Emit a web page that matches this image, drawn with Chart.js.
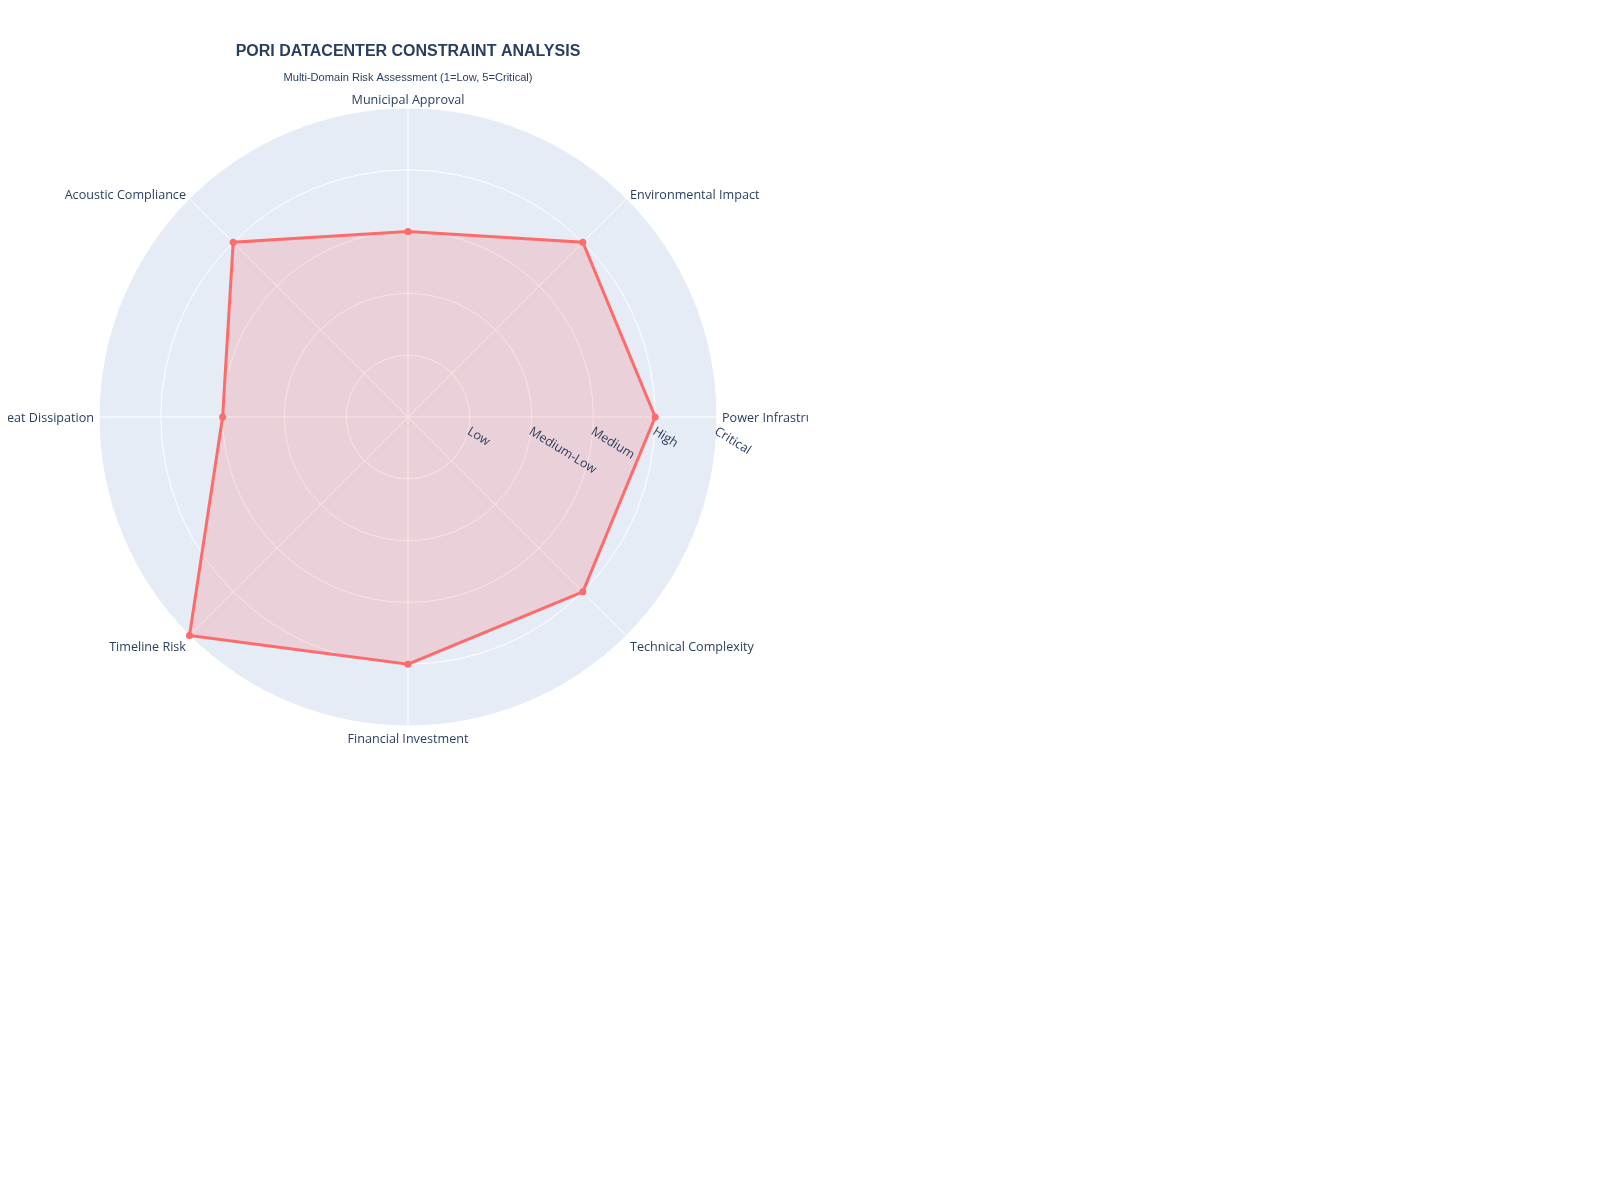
<!DOCTYPE html>
<html>
<head>
<meta charset="utf-8">
<script src="https://cdn.jsdelivr.net/npm/chart.js@4.4.1/dist/chart.umd.min.js"></script>
<style>
  html, body { margin: 0; padding: 0; background: #ffffff; }
  #wrap { position: absolute; left: 8px; top: 8px; width: 800px; height: 800px; overflow: hidden; }
</style>
</head>
<body>
<div id="wrap"><canvas id="c" width="800" height="800"></canvas></div>
<script>
// Categories listed clockwise starting from the top
const categories = [
  'Municipal Approval',
  'Environmental Impact',
  'Power Infrastructure',
  'Technical Complexity',
  'Financial Investment',
  'Timeline Risk',
  'Heat Dissipation',
  'Acoustic Compliance'
];
const riskScores = [3, 4, 4, 4, 4, 5, 3, 4];
const tickValues = [1, 2, 3, 4, 5];
const tickLabels = ['Low', 'Medium-Low', 'Medium', 'High', 'Critical'];

const titleText = 'PORI DATACENTER CONSTRAINT ANALYSIS';
const subtitleText = 'Multi-Domain Risk Assessment (1=Low, 5=Critical)';

const TEXT_COLOR = '#2a3f5f';
const LABEL_FONT = '12.6px "Open Sans", Verdana, sans-serif';

const polarBackground = {
  id: 'polarBackground',
  beforeDraw(chart) {
    const s = chart.scales.r;
    const ctx = chart.ctx;
    ctx.save();
    ctx.beginPath();
    ctx.arc(s.xCenter, s.yCenter, s.drawingArea, 0, Math.PI * 2);
    ctx.fillStyle = '#E5ECF6';
    ctx.fill();
    ctx.restore();
  }
};

const polarText = {
  id: 'polarText',
  afterDatasetsDraw(chart) {
    const s = chart.scales.r;
    const ctx = chart.ctx;
    ctx.save();
    ctx.fillStyle = TEXT_COLOR;
    ctx.font = LABEL_FONT;
    // angular labels
    const R = s.drawingArea;
    categories.forEach((label, i) => {
      const p = s.getPointPosition(i, R);
      const dx = (p.x - s.xCenter) / R;
      const dy = (p.y - s.yCenter) / R;
      let align = 'center';
      if (dx > 0.1) align = 'left';
      else if (dx < -0.1) align = 'right';
      ctx.textAlign = align;
      ctx.textBaseline = 'middle';
      const x = p.x + dx * 5;
      const y = p.y + dy * 10.5 + 1.5 * Math.abs(dy) + Math.abs(dx * dy) * 4 + 1;
      ctx.fillText(label, x, y);
    });
    // radial tick labels (rotated, along the 0° axis)
    tickValues.forEach((v, i) => {
      const r = s.getDistanceFromCenterForValue(v);
      ctx.save();
      ctx.translate(s.xCenter + r + 2, s.yCenter + 8);
      ctx.rotate(32 * Math.PI / 180);
      ctx.textAlign = 'left';
      ctx.textBaseline = 'top';
      ctx.fillText(tickLabels[i], 0, 0);
      ctx.restore();
    });
    // title + subtitle
    ctx.textAlign = 'center';
    ctx.textBaseline = 'middle';
    ctx.font = 'bold 16px "Liberation Sans", Arial, sans-serif';
    ctx.fillText(titleText, s.xCenter, 44);
    ctx.font = '11.1px "Liberation Sans", Arial, sans-serif';
    ctx.fillText(subtitleText, s.xCenter, 70);
    ctx.restore();
  }
};

new Chart(document.getElementById('c'), {
  type: 'radar',
  data: {
    labels: categories,
    datasets: [{
      label: 'Risk Score',
      data: riskScores,
      borderColor: '#FF6B6B',
      backgroundColor: 'rgba(255,107,107,0.2)',
      borderWidth: 3,
      fill: true,
      pointRadius: 3.5,
      pointBackgroundColor: '#FF6B6B',
      pointBorderColor: '#FF6B6B',
      pointBorderWidth: 0,
      tension: 0
    }]
  },
  options: {
    responsive: false,
    animation: false,
    events: [],
    layout: { padding: { left: 91, right: 91, top: 100, bottom: 82 } },
    plugins: {
      legend: { display: false },
      title: { display: false },
      tooltip: { enabled: false }
    },
    scales: {
      r: {
        min: 0,
        max: 5,
        startAngle: 0,
        ticks: { stepSize: 1, display: false },
        pointLabels: { display: false },
        grid: { circular: true, color: '#ffffff', lineWidth: 1 },
        angleLines: { display: true, color: '#ffffff', lineWidth: 1 }
      }
    }
  },
  plugins: [polarBackground, polarText]
});
</script>
</body>
</html>
